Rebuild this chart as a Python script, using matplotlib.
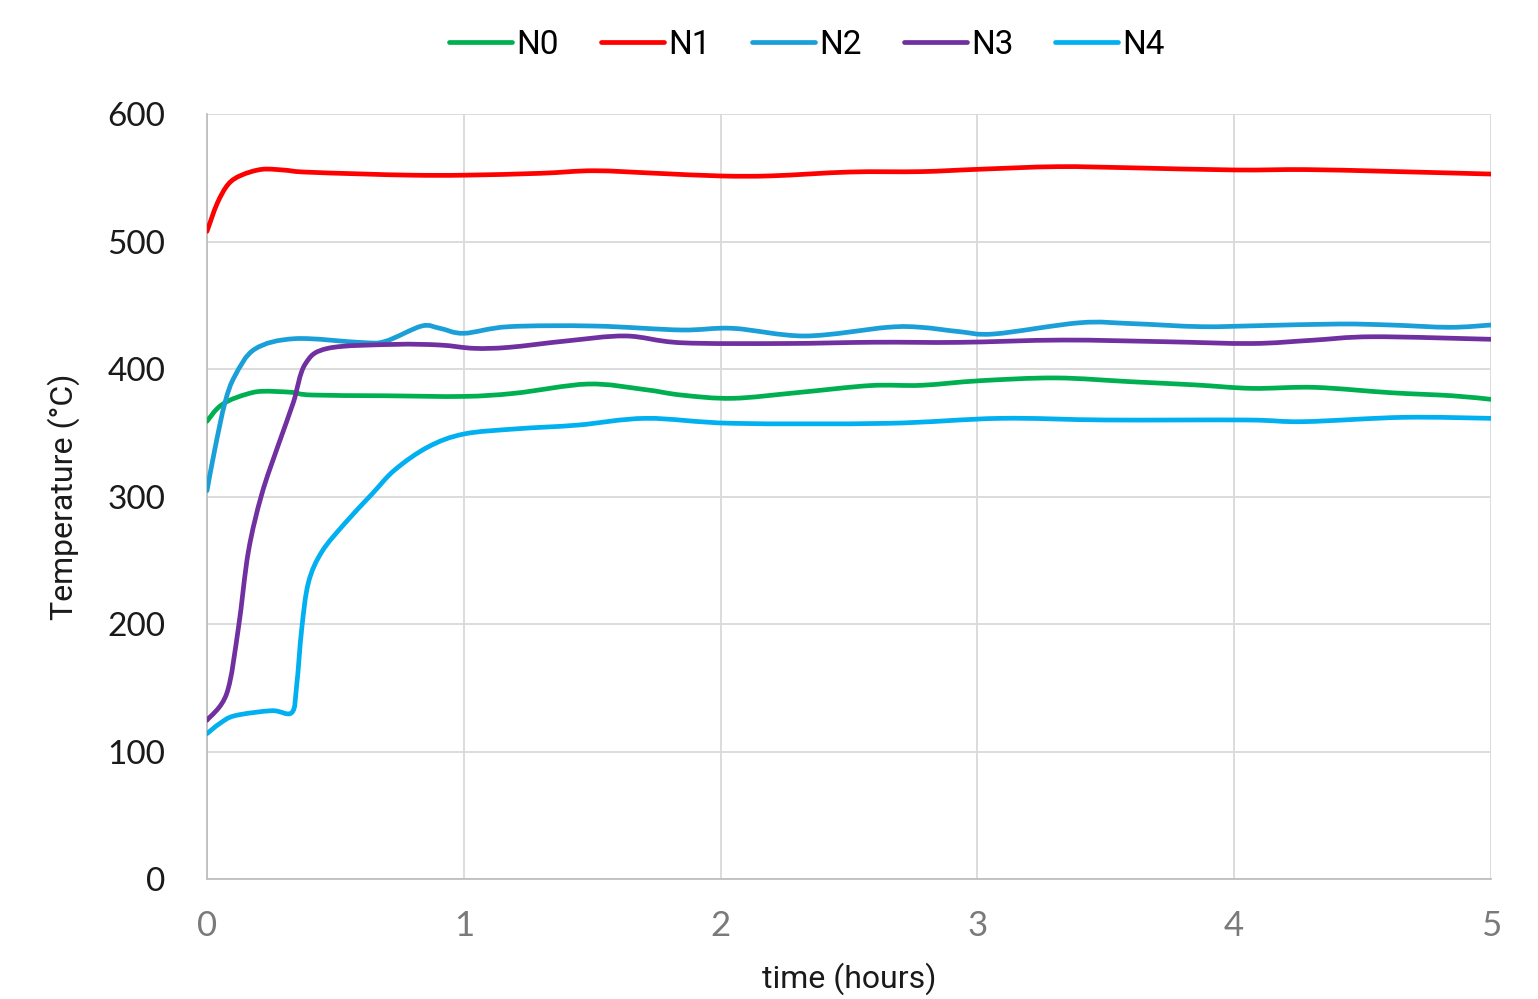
import matplotlib
matplotlib.use("Agg")
import matplotlib.pyplot as plt
from matplotlib.path import Path
from matplotlib.patches import PathPatch
from matplotlib.lines import Line2D

# ---- data ----
t_n0 = [0, 0.04, 0.083, 0.15, 0.213, 0.33, 0.408, 0.7, 1.0, 1.2, 1.483, 1.7, 1.85, 2.047, 2.3, 2.583, 2.78, 3.01, 3.306, 3.6, 3.85, 4.07, 4.313, 4.61, 4.85, 5.0]
v_n0 = [359, 369, 375, 380, 382.5, 381.7, 379.6, 379, 378.5, 381, 388.2, 384, 379.5, 377, 381.5, 387, 387.2, 390.8, 393, 390, 387.5, 384.8, 385.6, 381.4, 379, 376.2]

t_n1 = [0, 0.04, 0.083, 0.134, 0.214, 0.3, 0.376, 0.6, 0.8, 1.0, 1.3, 1.507, 1.75, 2.0, 2.2, 2.504, 2.78, 3.0, 3.31, 3.6, 4.0, 4.28, 4.6, 5.0]
v_n1 = [508, 530, 545, 552, 556.6, 556, 554.5, 553, 552, 552, 553.5, 555.5, 553.5, 551.4, 551.5, 554.5, 554.8, 556.6, 558.7, 557.8, 556.1, 556.4, 555, 552.9]

t_n2 = [0, 0.031, 0.07, 0.109, 0.187, 0.343, 0.6, 0.693, 0.836, 0.907, 1.0, 1.176, 1.51, 1.846, 2.047, 2.33, 2.65, 2.78, 2.93, 3.066, 3.4, 3.6, 3.87, 4.1, 4.41, 4.61, 4.84, 5.0]
v_n2 = [304.6, 337.6, 373.6, 394.7, 415.7, 423.8, 420.8, 421.6, 433.7, 431.9, 428, 433.2, 433.7, 430.6, 431.9, 425.9, 432.7, 432.7, 429.3, 427.5, 436.3, 435.6, 433.2, 434, 435.3, 434.5, 432.7, 434.5]

t_n3 = [0, 0.077, 0.122, 0.161, 0.213, 0.278, 0.336, 0.382, 0.473, 0.732, 0.907, 1.04, 1.176, 1.4, 1.63, 1.846, 2.25, 2.6, 2.93, 3.33, 3.73, 4.07, 4.3, 4.54, 5.0]
v_n3 = [124.5, 145.6, 196.5, 256.6, 301.6, 340.6, 373.6, 403.7, 416.3, 419.3, 418.8, 416.2, 417, 422, 425.9, 420.6, 420, 421, 420.9, 422.7, 421.4, 420, 422.5, 425.3, 423.3]

t_n4 = [0, 0.05, 0.109, 0.252, 0.33, 0.349, 0.369, 0.395, 0.447, 0.537, 0.641, 0.732, 0.862, 1.0, 1.2, 1.444, 1.71, 2.047, 2.65, 3.09, 3.5, 4.05, 4.27, 4.66, 5.0]
v_n4 = [114, 122, 128.1, 132, 130.5, 151.5, 196.5, 232.5, 256.6, 279, 301.6, 321, 339, 349, 353, 356, 361.3, 357.4, 357.4, 361.3, 360, 360, 358.7, 362.1, 361.3]

series_names = ["N0", "N1", "N2", "N3", "N4"]
series_colors = ["#00B050", "#FF0000", "#1B9FD8", "#7030A0", "#00B0F0"]
x_ticks = [0, 1, 2, 3, 4, 5]
y_ticks = [0, 100, 200, 300, 400, 500, 600]

fig = plt.figure(figsize=(15.38, 9.99), dpi=100)
ax = fig.add_axes([207/1538, 1-879/999, (1491-207)/1538, (879-114)/999])
ax.set_xlim(0, 5)
ax.set_ylim(0, 600)


def smooth_path(xs, ys):
    """Excel-like smoothed line: cubic Bezier segments through the data points."""
    verts = [(xs[0], ys[0])]
    codes = [Path.MOVETO]
    n = len(xs)
    for i in range(n - 1):
        x0, y0 = (xs[i - 1], ys[i - 1]) if i > 0 else (xs[i], ys[i])
        x1, y1 = xs[i], ys[i]
        x2, y2 = xs[i + 1], ys[i + 1]
        x3, y3 = (xs[i + 2], ys[i + 2]) if i + 2 < n else (x2, y2)
        c1 = (x1 + (x2 - x0) / 6.0, y1 + (y2 - y0) / 6.0)
        c2 = (x2 - (x3 - x1) / 6.0, y2 - (y3 - y1) / 6.0)
        verts += [c1, c2, (x2, y2)]
        codes += [Path.CURVE4] * 3
    return Path(verts, codes)


data = [(t_n0, v_n0), (t_n1, v_n1), (t_n2, v_n2), (t_n3, v_n3), (t_n4, v_n4)]
handles = []
for (t, v), name, c in zip(data, series_names, series_colors):
    patch = PathPatch(smooth_path(t, v), facecolor="none", edgecolor=c, lw=3.4,
                      capstyle="round", joinstyle="round", zorder=3)
    ax.add_patch(patch)
    handles.append(Line2D([], [], color=c, lw=3.4, solid_capstyle="round", label=name))

ax.set_xticks(x_ticks)
ax.set_yticks(y_ticks)
ax.grid(True, color="#D9D9D9", lw=1.3)
ax.set_axisbelow(True)
for s in ["top", "right"]:
    ax.spines[s].set_visible(False)
for s in ["left", "bottom"]:
    ax.spines[s].set_color("#BFBFBF")
    ax.spines[s].set_linewidth(1.3)
ax.tick_params(length=0)
ax.tick_params(axis="y", labelsize=24, labelcolor="#1a1a1a", pad=30)
ax.tick_params(axis="x", labelsize=25, labelcolor="#7a7a7a", pad=22)
for lab in ax.get_yticklabels():
    lab.set_fontfamily("Lato")
for lab in ax.get_xticklabels():
    lab.set_fontfamily("Lato")

ax.set_xlabel("time (hours)", fontsize=23, family="Roboto", color="#1a1a1a", labelpad=15)
ax.set_ylabel("Temperature (°C)", fontsize=23, family="Roboto", color="#1a1a1a", labelpad=20)

leg = fig.legend(handles=handles, loc="center", bbox_to_anchor=(807/1538, 1-45/999), ncol=5,
                 frameon=False, prop={"family": "Roboto", "size": 24}, handlelength=1.9,
                 handletextpad=0.12, columnspacing=1.25)

fig.savefig("out.png", dpi=100)
